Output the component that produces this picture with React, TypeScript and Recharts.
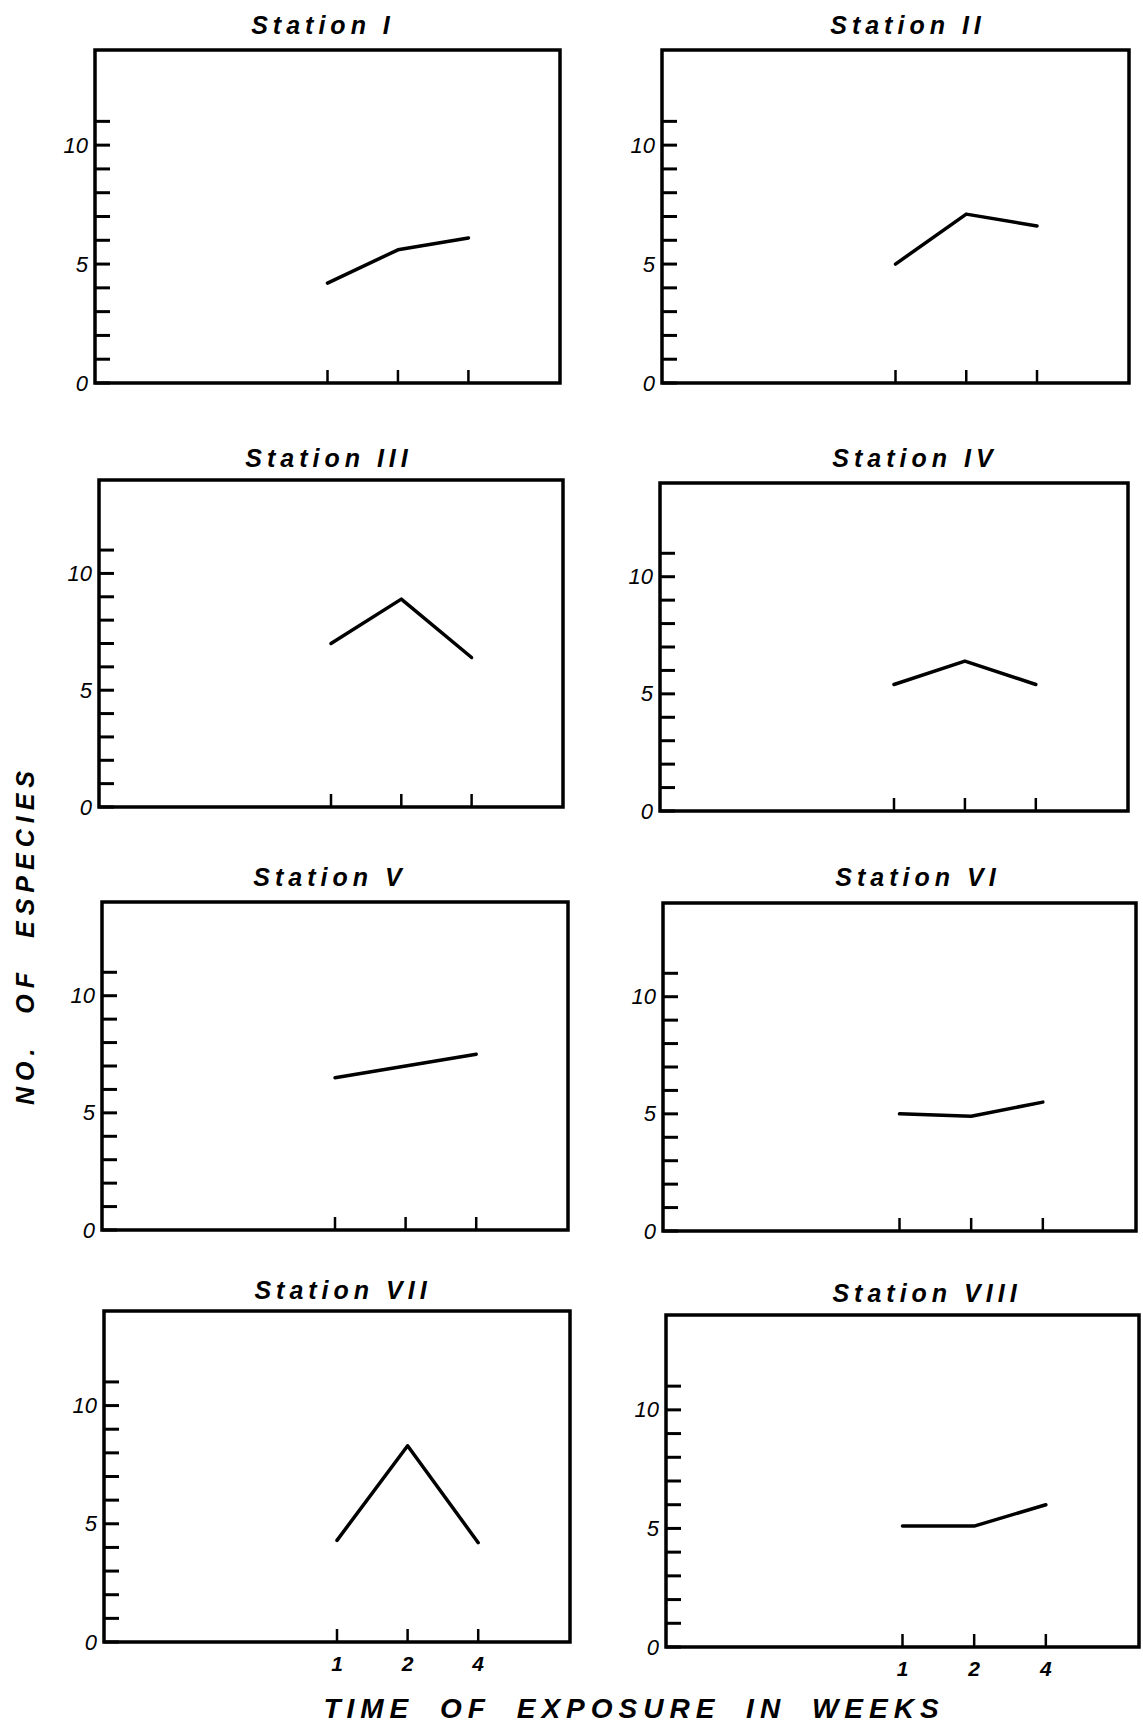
import React from "react";
import { LineChart, Line, XAxis, YAxis, ReferenceArea } from "recharts";

// exposure time (weeks) shown under the ticks
const weeks = ["1", "2", "4"];
const stationNames = [
  "Station I", "Station II", "Station III", "Station IV",
  "Station V", "Station VI", "Station VII", "Station VIII",
];
// number of species per station, read for weeks 1, 2, 4
const station1 = [4.2, 5.6, 6.1];
const station2 = [5.0, 7.1, 6.6];
const station3 = [7.0, 8.9, 6.4];
const station4 = [5.4, 6.4, 5.4];
const station5 = [6.5, 7.0, 7.5];
const station6 = [5.0, 4.9, 5.5];
const station7 = [4.3, 8.3, 4.2];
const station8 = [5.1, 5.1, 6.0];
const stations = [station1, station2, station3, station4, station5, station6, station7, station8];

const yTicks = [0, 1, 2, 3, 4, 5, 6, 7, 8, 9, 10, 11];
const yLabelled = [0, 5, 10];
const xTicks = [1, 2, 3];

// layout: plot box [left, top, right, bottom] and title centre [x, y]
const boxes = [
  [95, 50, 560, 383],
  [662, 50, 1129, 383],
  [99, 480, 563, 807],
  [660, 483, 1128, 811],
  [102, 902, 568, 1230],
  [663, 903, 1136, 1231],
  [104, 1311, 570, 1642],
  [666, 1315, 1139, 1647],
];
const titlePos = [
  [323, 25], [908, 25], [329, 458], [915, 458],
  [330, 877], [918, 877], [343, 1290], [927, 1293],
];

const X_DOMAIN: [number, number] = [-2.3, 4.3];
const Y_DOMAIN: [number, number] = [0, 14];
const PAD_L = 60, PAD_T = 10, PAD_R = 10, PAD_B = 34;
const FONT = "'Liberation Sans', 'DejaVu Sans', sans-serif";

function YTick(props: any) {
  const { x, y, payload } = props;
  const v = payload.value;
  return (
    <g>
      <line x1={x} x2={x + 15} y1={y} y2={y} stroke="#000" strokeWidth={3} />
      {yLabelled.includes(v) && (
        <text x={x - 7} y={y} textAnchor="end" dominantBaseline="central"
          fontFamily={FONT} fontStyle="italic" fontSize={22} fill="#000">
          {v}
        </text>
      )}
    </g>
  );
}

function makeXTick(showLabels: boolean) {
  return function XTick(props: any) {
    const { x, y, payload } = props;
    return (
      <g>
        <line x1={x} x2={x} y1={y} y2={y - 13} stroke="#000" strokeWidth={2.5} />
        {showLabels && (
          <text x={x} y={y + 21} textAnchor="middle" dominantBaseline="central"
            fontFamily={FONT} fontStyle="italic" fontWeight="bold" fontSize={21} fill="#000">
            {weeks[payload.value - 1]}
          </text>
        )}
      </g>
    );
  };
}

function Panel({ idx }: { idx: number }) {
  const [l, t, r, b] = boxes[idx];
  const w = r - l + PAD_L + PAD_R;
  const h = b - t + PAD_T + PAD_B;
  const data = weeks.map((wk, i) => ({ pos: i + 1, week: wk, value: stations[idx][i] }));
  const bottomRow = idx >= 6;
  return (
    <div style={{ position: "absolute", left: l - PAD_L, top: t - PAD_T }}>
      <LineChart width={w} height={h} data={data}
        margin={{ top: PAD_T, right: PAD_R, bottom: 0, left: 0 }}>
        <XAxis dataKey="pos" type="number" domain={X_DOMAIN} ticks={xTicks}
          allowDataOverflow axisLine={false} tickLine={false} tickSize={0} tickMargin={0}
          height={PAD_B} tick={makeXTick(bottomRow)} interval={0} />
        <YAxis type="number" domain={Y_DOMAIN} ticks={yTicks} allowDataOverflow
          axisLine={false} tickLine={false} tickSize={0} tickMargin={0}
          width={PAD_L} tick={<YTick />} interval={0} />
        <ReferenceArea x1={X_DOMAIN[0]} x2={X_DOMAIN[1]} y1={Y_DOMAIN[0]} y2={Y_DOMAIN[1]}
          fill="none" fillOpacity={0} stroke="#000" strokeWidth={3.5} ifOverflow="visible" />
        <Line type="linear" dataKey="value" stroke="#000" strokeWidth={3.5}
          strokeLinecap="round" strokeLinejoin="round" dot={false} isAnimationActive={false} />
      </LineChart>
    </div>
  );
}

export default function App() {
  return (
    <div style={{
      position: "absolute", left: 0, top: 0, width: 1143, height: 1727, overflow: "hidden",
      background: "#fff", fontFamily: FONT,
    }}>
      {stationNames.map((name, i) => (
        <div key={name} style={{
          position: "absolute", left: titlePos[i][0] - 150, top: titlePos[i][1] - 16, width: 300,
          textAlign: "center", fontSize: 25, fontWeight: "bold", fontStyle: "italic",
          letterSpacing: 5, lineHeight: "32px",
        }}>
          {name}
        </div>
      ))}
      {stationNames.map((name, i) => <Panel key={name} idx={i} />)}

      {/* shared axis titles */}
      <div style={{
        position: "absolute", left: 634 - 400, top: 1709 - 18, width: 800, textAlign: "center",
        fontSize: 28, fontWeight: "bold", fontStyle: "italic", letterSpacing: 6, wordSpacing: 12,
        lineHeight: "36px",
      }}>
        TIME OF EXPOSURE IN WEEKS
      </div>
      <div style={{
        position: "absolute", left: 25 - 200, top: 935 - 17, width: 400, textAlign: "center",
        fontSize: 25, fontWeight: "bold", fontStyle: "italic", letterSpacing: 6, wordSpacing: 16,
        lineHeight: "34px", transform: "rotate(-90deg)",
      }}>
        NO. OF ESPECIES
      </div>
    </div>
  );
}
